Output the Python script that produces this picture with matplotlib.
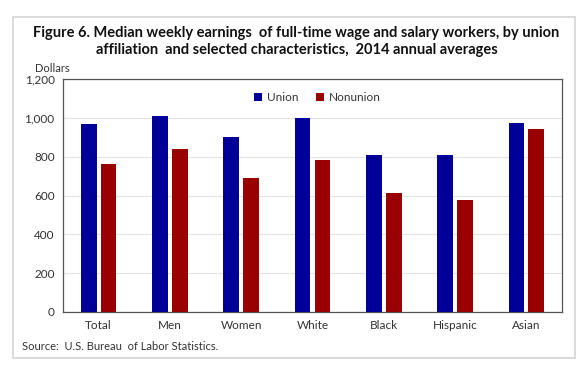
import numpy as np
import matplotlib.pyplot as plt
from matplotlib.patches import Rectangle

categories = ['Total', 'Men', 'Women', 'White', 'Black', 'Hispanic', 'Asian']
union = [970, 1011, 902, 999, 811, 811, 975]
nonunion = [763, 840, 688, 783, 611, 579, 941]
yticks = [0, 200, 400, 600, 800, 1000, 1200]
ytick_labels = ['0', '200', '400', '600', '800', '1,000', '1,200']

plt.rcParams['font.family'] = ['Lato', 'DejaVu Sans']

fig = plt.figure(figsize=(5.87, 3.69), dpi=100)
fig.patch.set_facecolor('white')

# outer grey frame
fig.patches.append(Rectangle((13/587, 1-358/369), (575-13)/587, (358-17)/369,
                             transform=fig.transFigure, fill=False,
                             edgecolor='#d4d4d4', linewidth=1.2))

ax = fig.add_axes([63/587, 1-312/369, (562-63)/587, (312-79)/369])

x = np.arange(len(categories))
w = 0.22
ax.bar(x - 0.14, union, w, color='#000099', label='Union', zorder=3)
ax.bar(x + 0.14, nonunion, w, color='#990000', label='Nonunion', zorder=3)

ax.set_xlim(-0.5, len(categories) - 0.5)
ax.set_ylim(0, 1200)
ax.set_yticks(yticks)
ax.set_yticklabels(ytick_labels, fontsize=8.5, color='#333333')
ax.set_xticks(x)
ax.set_xticklabels(categories, fontsize=8.5, color='#333333')
ax.tick_params(axis='both', length=0, pad=6)
ax.yaxis.grid(True, color='#e4e4e4', linewidth=0.8, zorder=0)
for s in ax.spines.values():
    s.set_color('#555555')
    s.set_linewidth(0.9)

ax.legend(loc='center', bbox_to_anchor=(0.51, 0.92), ncol=2, frameon=False,
          fontsize=8.5, handlelength=0.7, handleheight=0.7, handletextpad=0.4,
          columnspacing=1.5, labelcolor='#333333')

fig.text(0.505, 1-33/369, 'Figure 6. Median weekly earnings  of full-time wage and salary workers, by union',
         ha='center', va='center', fontsize=10.5, fontweight='bold', color='#111111')
fig.text(0.505, 1-50/369, 'affiliation  and selected characteristics,  2014 annual averages',
         ha='center', va='center', fontsize=10.5, fontweight='bold', color='#111111')
fig.text(35/587, 1-68/369, 'Dollars', ha='left', va='center', fontsize=8, color='#333333')
fig.text(22/587, 1-347/369, 'Source:  U.S. Bureau  of Labor Statistics.', ha='left', va='center',
         fontsize=8, color='#333333')

plt.savefig('out.png', dpi=100)
plt.close()
